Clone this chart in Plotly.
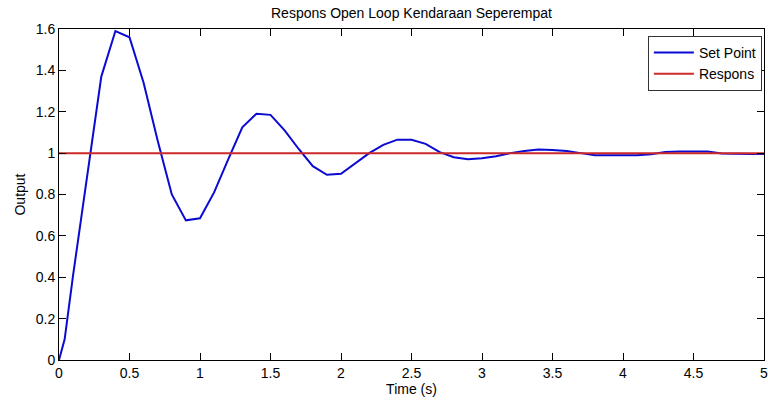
import plotly.graph_objects as go

# Time samples (s) and the oscillating response
time_s = [0.0, 0.04, 0.1, 0.2, 0.3, 0.4, 0.5, 0.6, 0.7, 0.8, 0.9,
          1.0, 1.1, 1.2, 1.3, 1.4, 1.5, 1.6, 1.7, 1.8, 1.9,
          2.0, 2.1, 2.2, 2.3, 2.4, 2.5, 2.6, 2.7, 2.8, 2.9,
          3.0, 3.1, 3.2, 3.3, 3.4, 3.5, 3.6, 3.7, 3.8, 3.9,
          4.0, 4.1, 4.2, 4.3, 4.4, 4.5, 4.6, 4.7, 4.8, 4.9, 5.0]
set_point = [0.0, 0.10, 0.41, 0.90, 1.37, 1.59, 1.56, 1.34, 1.06, 0.80, 0.675,
             0.685, 0.81, 0.97, 1.125, 1.19, 1.185, 1.11, 1.02, 0.937, 0.895,
             0.90, 0.95, 1.00, 1.04, 1.065, 1.065, 1.045, 1.005, 0.98, 0.97,
             0.975, 0.985, 1.0, 1.01, 1.017, 1.015, 1.01, 1.0, 0.99, 0.99,
             0.99, 0.99, 0.995, 1.005, 1.008, 1.008, 1.008, 0.998, 0.996, 0.996, 0.996]

# Reference (constant) line
respons_t = [0.0, 5.0]
respons_y = [1.0, 1.0]

x_ticks = [0, 0.5, 1, 1.5, 2, 2.5, 3, 3.5, 4, 4.5, 5]
x_labels = ["0", "0.5", "1", "1.5", "2", "2.5", "3", "3.5", "4", "4.5", "5"]
y_ticks = [0, 0.2, 0.4, 0.6, 0.8, 1.0, 1.2, 1.4, 1.6]
y_labels = ["0", "0.2", "0.4", "0.6", "0.8", "1", "1.2", "1.4", "1.6"]

FONT = "Liberation Sans, Arial, sans-serif"

fig = go.Figure()
fig.add_trace(go.Scatter(x=time_s, y=set_point, mode="lines", name="Set Point",
                         line=dict(color="#0a0ad2", width=2)))
fig.add_trace(go.Scatter(x=respons_t, y=respons_y, mode="lines", name="Respons",
                         line=dict(color="#cc2a2a", width=2)))

axis_common = dict(showline=True, linecolor="black", linewidth=1, mirror="ticks",
                   ticks="inside", ticklen=7, tickcolor="black", tickwidth=1,
                   showgrid=False, zeroline=False, automargin=False,
                   ticklabeloverflow="allow",
                   tickfont=dict(family=FONT, size=14, color="black"))

fig.update_layout(
    width=768, height=402,
    margin=dict(l=59, r=4, t=29, b=42),
    paper_bgcolor="white", plot_bgcolor="white",
    font=dict(family=FONT, size=14, color="black"),
    title=dict(text="Respons Open Loop Kendaraan Seperempat",
               x=(59 + 764) / 2 / 768, xanchor="center",
               y=1 - 13 / 402, yanchor="middle",
               font=dict(family=FONT, size=14, color="black")),
    xaxis=dict(range=[0, 5], tickvals=x_ticks, ticktext=x_labels,
               title=dict(text="Time (s)", standoff=2,
                          font=dict(family=FONT, size=14, color="black")),
               **axis_common),
    yaxis=dict(range=[0, 1.6], tickvals=y_ticks, ticktext=y_labels,
               title=dict(text="Output", standoff=6,
                          font=dict(family=FONT, size=14, color="black")),
               **axis_common),
    showlegend=True,
    legend=dict(x=0.997, xanchor="right", y=0.979, yanchor="top",
                bgcolor="white", bordercolor="#333333", borderwidth=1,
                font=dict(family=FONT, size=14, color="black"),
                tracegroupgap=0, itemwidth=40),
)

fig.write_html("out.html",
               config={"displayModeBar": False},
               post_script="document.body.style.margin='0px';"
                           "document.body.style.overflow='hidden';")
